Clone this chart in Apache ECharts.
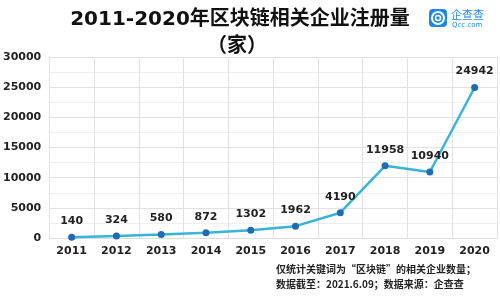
<!DOCTYPE html>
<html><head><meta charset="utf-8">
<script src="https://cdn.jsdelivr.net/npm/echarts@6/dist/echarts.min.js"></script>
<style>html,body{margin:0;padding:0;background:#fff}#c{width:500px;height:300px}</style>
</head><body><div id="c"></div>
<script>
const titleText = '2011-2020年区块链相关企业注册量';
const unitText = '（家）';
const categories = ['2011','2012','2013','2014','2015','2016','2017','2018','2019','2020'];
const registrations = [140, 324, 580, 872, 1302, 1962, 4190, 11958, 10940, 24942];
const yTicks = [0, 5000, 10000, 15000, 20000, 25000, 30000];
const noteLines = ['仅统计关键词为“区块链”的相关企业数量；', '数据截至：2021.6.09；数据来源：企查查'];

const chart = echarts.init(document.getElementById('c'), null, {renderer:'canvas'});
const cjk = '"DejaVu Sans", "Noto Sans CJK SC", sans-serif';
chart.setOption({
  animation:false,
  backgroundColor:'#fff',
  title:[
    {text:titleText, left:235, top:5, textAlign:'center',
     textStyle:{fontSize:20, fontWeight:'bold', color:'#111', fontFamily:cjk}},
    {text:unitText, left:232, top:29, textAlign:'center',
     textStyle:{fontSize:20, fontWeight:'bold', color:'#111', fontFamily:'"Noto Sans CJK SC", sans-serif'}}
  ],
  grid:{left:45, right:3, top:57, bottom:62, containLabel:false},
  xAxis:{type:'category', data:categories, boundaryGap:true,
    axisLine:{show:true, lineStyle:{color:'#ddd'}}, axisTick:{show:false},
    splitLine:{show:true, lineStyle:{color:'#e2e2e2', width:1}},
    axisLabel:{color:'#222', fontSize:11, fontWeight:'bold', fontFamily:cjk, margin:8, interval:0}},
  yAxis:{type:'value', min:yTicks[0], max:yTicks[yTicks.length-1], interval:5000,
    axisLine:{show:false}, axisTick:{show:false},
    splitLine:{show:true, lineStyle:{color:'#e2e2e2'}},
    minorTick:{show:false, splitNumber:2},
    minorSplitLine:{show:true, lineStyle:{color:'#efefef'}},
    axisLabel:{color:'#222', fontSize:11, fontWeight:'bold', fontFamily:cjk, margin:8,
      formatter:function(v){return String(v);}}},
  series:[{type:'line', data:registrations, symbol:'circle', symbolSize:7,
    lineStyle:{color:'#3ab3d8', width:2.5},
    itemStyle:{color:'#1f6cb3'},
    label:{show:true, position:'top', distance:7, color:'#222', fontSize:11, fontWeight:'bold', fontFamily:cjk}}],
  graphic:[
    {type:'rect', shape:{x:429, y:9, width:18, height:18, r:4}, style:{fill:'#1e88e5'}},
    {type:'circle', shape:{cx:438, cy:18, r:6}, style:{fill:'none', stroke:'#fff', lineWidth:2}},
    {type:'circle', shape:{cx:438, cy:18, r:2.5}, style:{fill:'none', stroke:'#fff', lineWidth:1.5}},
    {type:'text', left:451, top:9, style:{text:'企查查', fill:'#1e88e5', fontSize:11, fontFamily:'"Noto Sans CJK SC", sans-serif'}},
    {type:'text', left:452, top:22, style:{text:'Qcc.com', fill:'#1e88e5', fontSize:7, fontFamily:'"DejaVu Sans", sans-serif'}},
    {type:'text', left:276, top:264, style:{text:noteLines[0], fill:'#222', fontSize:10, fontWeight:'bold', fontFamily:'"Noto Sans CJK SC", sans-serif'}},
    {type:'text', left:276, top:279, style:{text:noteLines[1], fill:'#222', fontSize:10, fontWeight:'bold', fontFamily:'"Noto Sans CJK SC", sans-serif'}}
  ]
});
</script></body></html>
